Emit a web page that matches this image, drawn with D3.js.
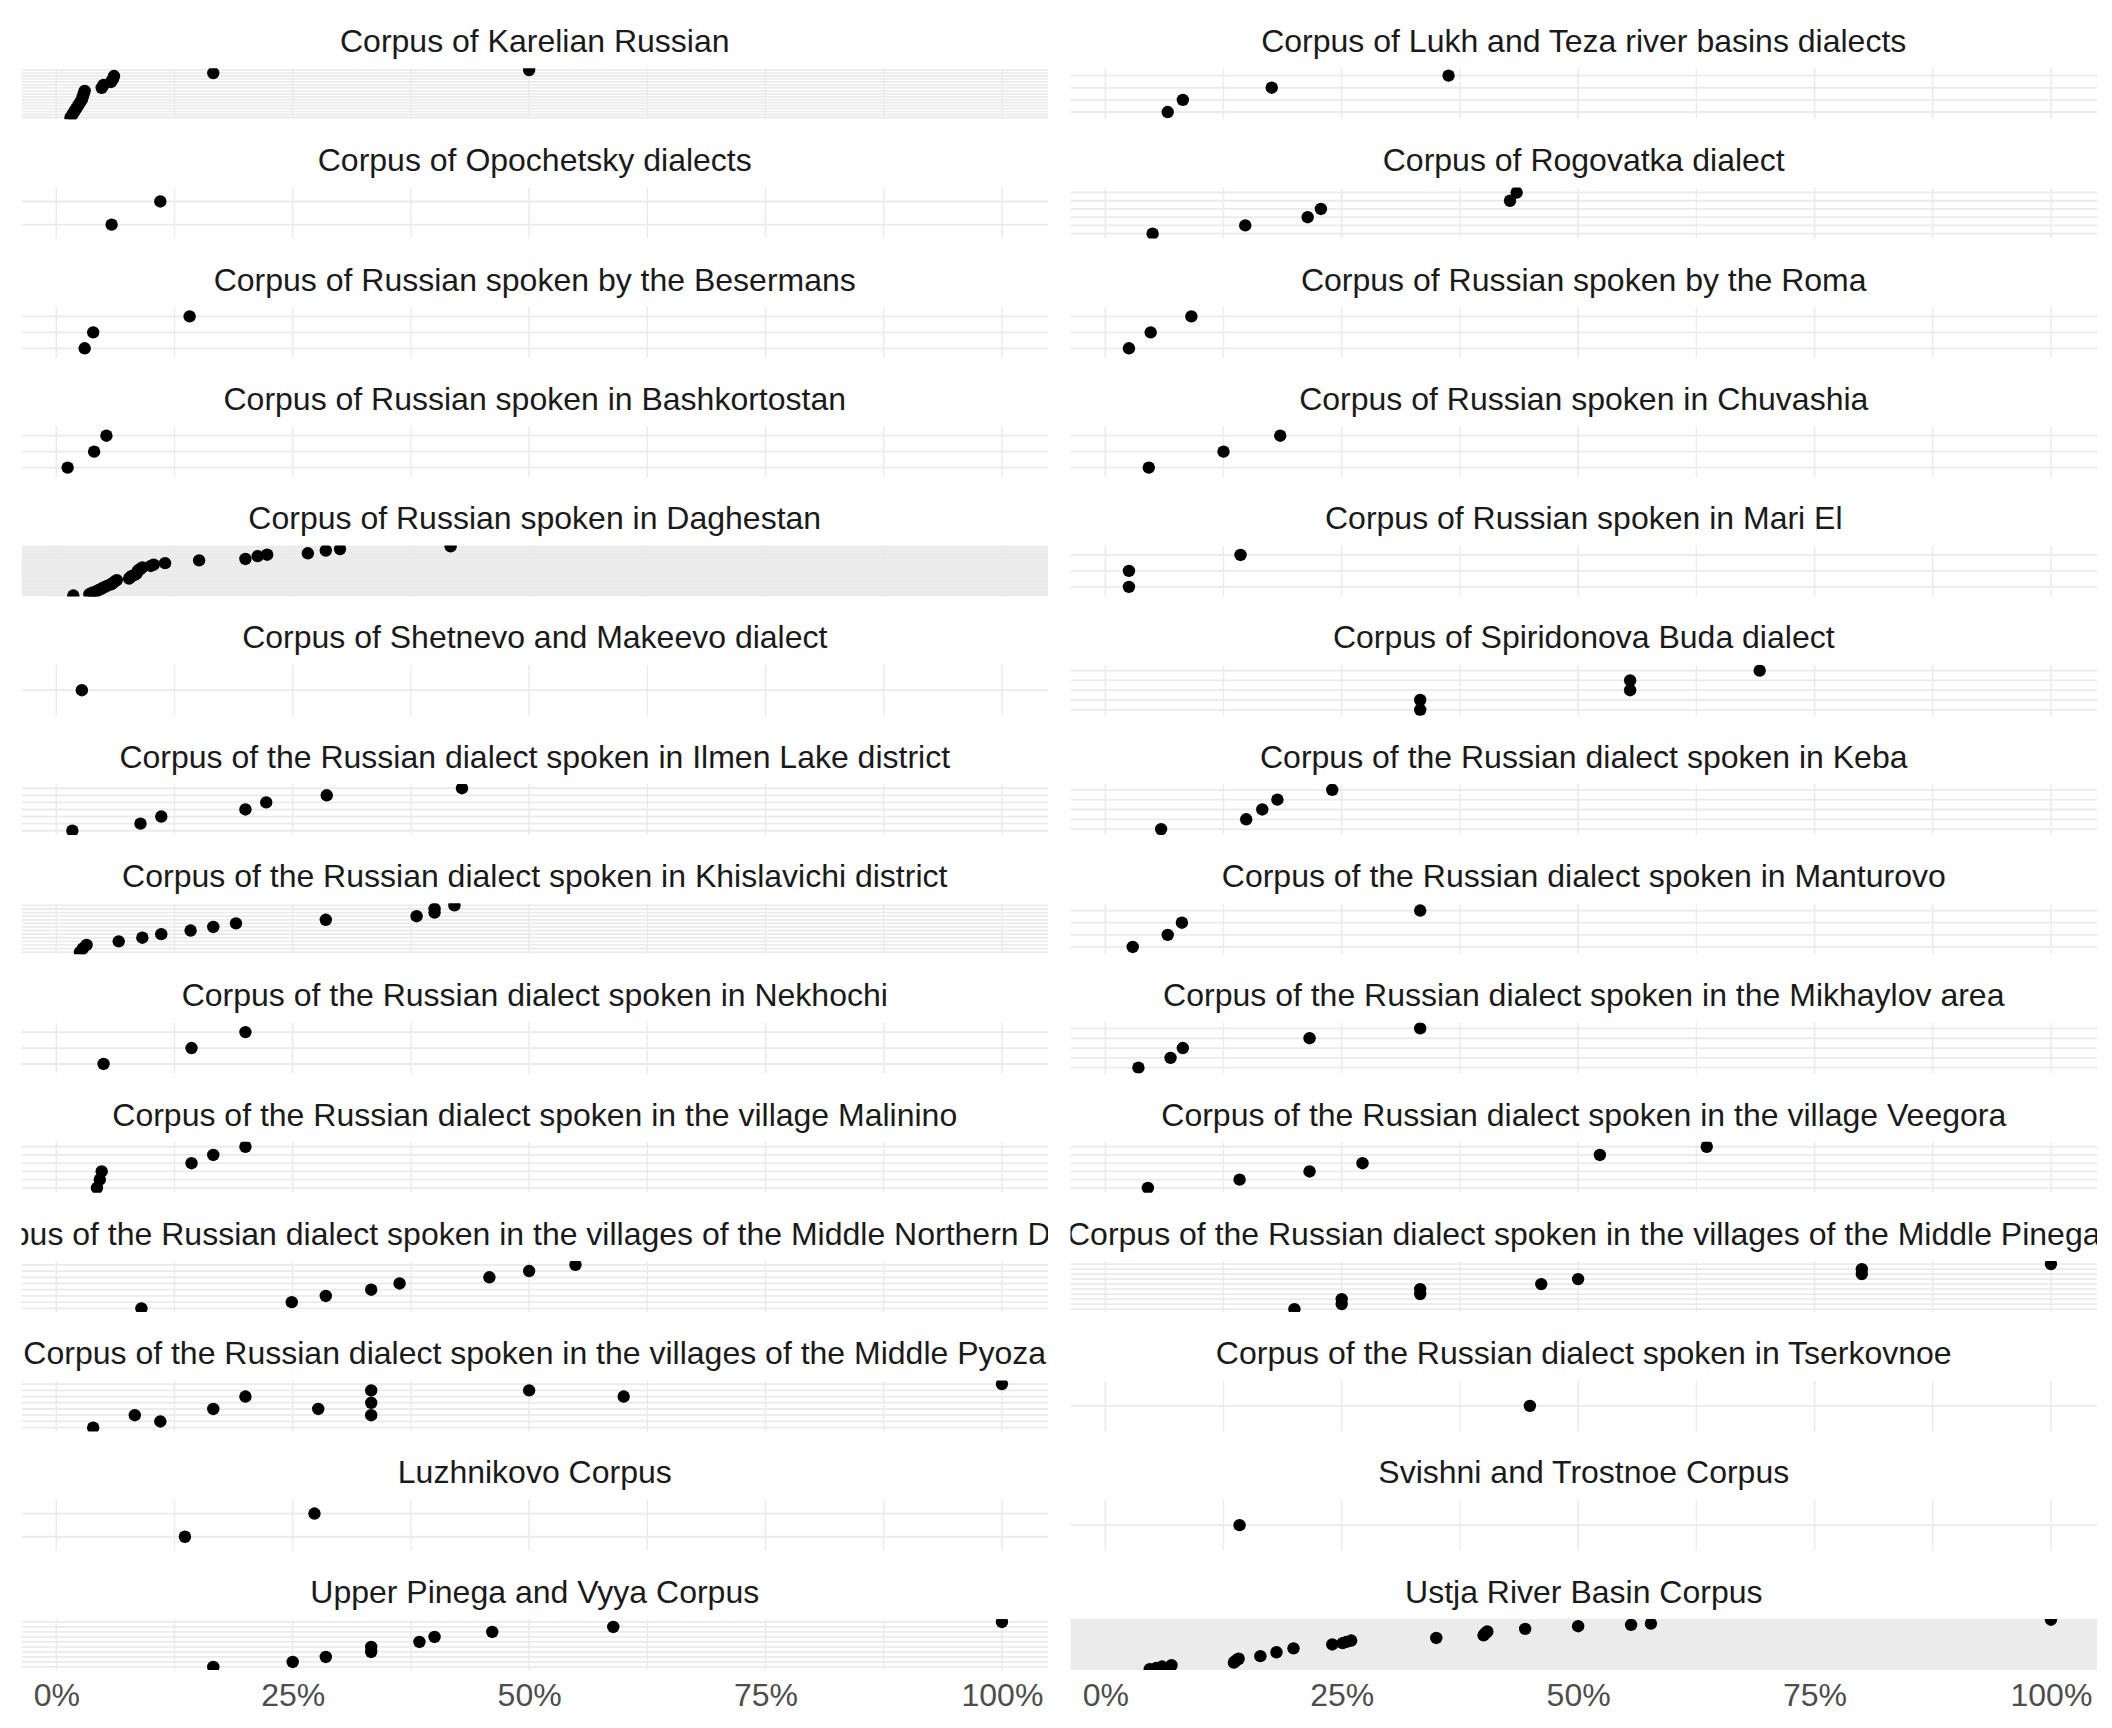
<!DOCTYPE html>
<html>
<head>
<meta charset="utf-8">
<script src="https://cdn.jsdelivr.net/npm/d3@7"></script>
<style>
  html, body { margin: 0; padding: 0; background: #fff; }
  svg { display: block; }
</style>
</head>
<body>
<svg id="chart" width="2112" height="1728"></svg>
<script>
// ---- data (facet order: row by row, left then right) ----
const panelTitles = [
  "Corpus of Karelian Russian",
  "Corpus of Lukh and Teza river basins dialects",
  "Corpus of Opochetsky dialects",
  "Corpus of Rogovatka dialect",
  "Corpus of Russian spoken by the Besermans",
  "Corpus of Russian spoken by the Roma",
  "Corpus of Russian spoken in Bashkortostan",
  "Corpus of Russian spoken in Chuvashia",
  "Corpus of Russian spoken in Daghestan",
  "Corpus of Russian spoken in Mari El",
  "Corpus of Shetnevo and Makeevo dialect",
  "Corpus of Spiridonova Buda dialect",
  "Corpus of the Russian dialect spoken in Ilmen Lake district",
  "Corpus of the Russian dialect spoken in Keba",
  "Corpus of the Russian dialect spoken in Khislavichi district",
  "Corpus of the Russian dialect spoken in Manturovo",
  "Corpus of the Russian dialect spoken in Nekhochi",
  "Corpus of the Russian dialect spoken in the Mikhaylov area",
  "Corpus of the Russian dialect spoken in the village Malinino",
  "Corpus of the Russian dialect spoken in the village Veegora",
  "Corpus of the Russian dialect spoken in the villages of the Middle Northern Dvina",
  "Corpus of the Russian dialect spoken in the villages of the Middle Pinega",
  "Corpus of the Russian dialect spoken in the villages of the Middle Pyoza",
  "Corpus of the Russian dialect spoken in Tserkovnoe",
  "Luzhnikovo Corpus",
  "Svishni and Trostnoe Corpus",
  "Upper Pinega and Vyya Corpus",
  "Ustja River Basin Corpus"
];

// values in percent, one entry per y category from bottom to top
// (null = category with no point, array = several points on one category)
const panelValues = [
  [1.5, 1.7, 1.9, 2.1, 2.3, 2.5, 2.7, 2.8, 2.9, 3.0, 4.8, 5.0, 5.8, 6.0, 6.1, 16.6, 50.0],
  [6.6, 8.2, 17.6, 36.3],
  [5.85, 11.0],
  [5.0, 14.8, 21.4, 22.8, 42.8, 43.5],
  [3.0, 3.9, 14.1],
  [2.5, 4.8, 9.1],
  [1.2, 4.0, 5.3],
  [4.6, 12.5, 18.5],
  [1.8, 3.5, 3.8, 4.2, 4.5, 4.8, 5.1, 5.4, 5.8, 6.0, 6.2, 6.4, 7.7, 7.8, 8.0, 8.4, 8.5, 8.6, 8.7, 8.9, 9.1, 10.0, 10.3, 11.5, null, 15.1, 20.0, null, 21.3, 22.3, 26.6, null, 28.5, 30.0, null, 41.7],
  [2.5, 2.5, 14.3],
  [2.7],
  [33.3, 33.3, 55.5, 55.5, 69.2],
  [1.7, 8.9, 11.1, 20.0, 22.2, 28.6, 42.9],
  [5.9, 14.9, 16.6, 18.2, 24.0],
  [2.5, 2.8, 3.2, 6.6, 9.1, 11.1, 14.2, 16.6, 19.0, 28.5, 38.1, 40.0, 40.0, 42.1],
  [2.9, 6.6, 8.1, 33.3],
  [5.0, 14.3, 20.0],
  [3.5, 6.9, 8.2, 21.6, 33.3],
  [4.3, 4.6, 4.8, 14.3, 16.6, 20.0],
  [4.5, 14.2, 21.6, 27.2, 52.3, 63.6],
  [9.0, 24.9, 28.5, 33.3, 36.3, 45.8, 50.0, 54.9],
  [20.0, 25.0, 25.0, 33.3, 33.3, 46.1, 50.0, 80.0, 80.0, 100.0],
  [[3.9], [11.0], [8.3, 33.3], [16.6, 27.7], [33.3], [20.0, 60.0], [33.3, 50.0], [100.0]],
  [44.9],
  [13.6, 27.3],
  [14.2],
  [16.6, 25.0, 28.5, 33.3, 33.3, 38.4, 40.0, 46.1, 58.9, 100.0],
  [4.7, 5.4, 6.0, 7.0, null, 13.6, 13.7, 13.9, 14.1, null, 16.4, null, null, 18.1, null, null, 19.9, null, null, 24.0, 25.1, 25.5, 26.0, null, 35.0, null, 40.0, 40.1, 40.3, 40.4, null, 44.4, null, 50.0, 55.6, 57.7, null, null, 100.0]
];

const majorTicks = [0, 0.25, 0.5, 0.75, 1];
const minorTicks = [0.125, 0.375, 0.625, 0.875];
const tickLabels = ["0%", "25%", "50%", "75%", "100%"];

// ---- layout ----
const colLeft = [21.5, 1070.5];
const panelW = 1026.5;
const rowTop0 = 68.3;
const rowPitch = 119.28;
const panelH = 51;
const gridColor = "#EBEBEB";
const font = "'Liberation Sans', Arial, Helvetica, sans-serif";
const fontSize = 32;

const svg = d3.select("#chart");
const defs = svg.append("defs");

panelTitles.forEach((title, i) => {
  const col = i % 2, row = Math.floor(i / 2);
  const left = colLeft[col];
  const top = rowTop0 + row * rowPitch;
  const x = d3.scaleLinear().domain([-0.0368, 1.0487]).range([left, left + panelW]);
  const levels = panelValues[i];
  const y = d3.scalePoint()
    .domain(d3.range(levels.length))
    .range([top + panelH, top])
    .padding(0.6);

  const g = svg.append("g").attr("class", "panel");

  defs.append("clipPath").attr("id", "clip" + i)
    .append("rect").attr("x", left).attr("y", top).attr("width", panelW).attr("height", panelH);
  defs.append("clipPath").attr("id", "sclip" + i)
    .append("rect").attr("x", left).attr("y", top - 50).attr("width", panelW).attr("height", 50);

  const grid = g.append("g").attr("clip-path", `url(#clip${i})`);
  grid.selectAll("line.h").data(d3.range(levels.length)).join("line")
    .attr("class", "h")
    .attr("x1", left).attr("x2", left + panelW)
    .attr("y1", d => y(d)).attr("y2", d => y(d))
    .attr("stroke", gridColor).attr("stroke-width", 1.8);
  grid.selectAll("line.vmin").data(minorTicks).join("line")
    .attr("class", "vmin")
    .attr("x1", d => x(d)).attr("x2", d => x(d))
    .attr("y1", top).attr("y2", top + panelH)
    .attr("stroke", gridColor).attr("stroke-width", 1.4);
  grid.selectAll("line.vmaj").data(majorTicks).join("line")
    .attr("class", "vmaj")
    .attr("x1", d => x(d)).attr("x2", d => x(d))
    .attr("y1", top).attr("y2", top + panelH)
    .attr("stroke", gridColor).attr("stroke-width", 1.6);

  const pts = [];
  levels.forEach((v, k) => {
    if (v === null) return;
    (Array.isArray(v) ? v : [v]).forEach(val => pts.push({ k, val }));
  });
  grid.selectAll("circle").data(pts).join("circle")
    .attr("cx", d => x(d.val / 100))
    .attr("cy", d => y(d.k))
    .attr("r", 6.2)
    .attr("fill", "#000");

  g.append("text")
    .attr("clip-path", `url(#sclip${i})`)
    .attr("x", left + panelW / 2)
    .attr("y", top - 16.3)
    .attr("text-anchor", "middle")
    .attr("font-family", font)
    .attr("font-size", fontSize)
    .attr("fill", "#1A1A1A")
    .text(title);

  if (row === Math.floor((panelTitles.length - 1) / 2)) {
    const axis = d3.axisBottom(x).tickValues(majorTicks)
      .tickFormat((d, j) => tickLabels[j]).tickSize(0).tickPadding(0);
    const ag = g.append("g").attr("transform", `translate(0,${top + panelH})`).call(axis);
    ag.select(".domain").remove();
    ag.selectAll("text")
      .attr("font-family", font)
      .attr("font-size", fontSize)
      .attr("fill", "#4D4D4D")
      .attr("dy", null)
      .attr("y", 1706 - (top + panelH));
  }
});
</script>
</body>
</html>
